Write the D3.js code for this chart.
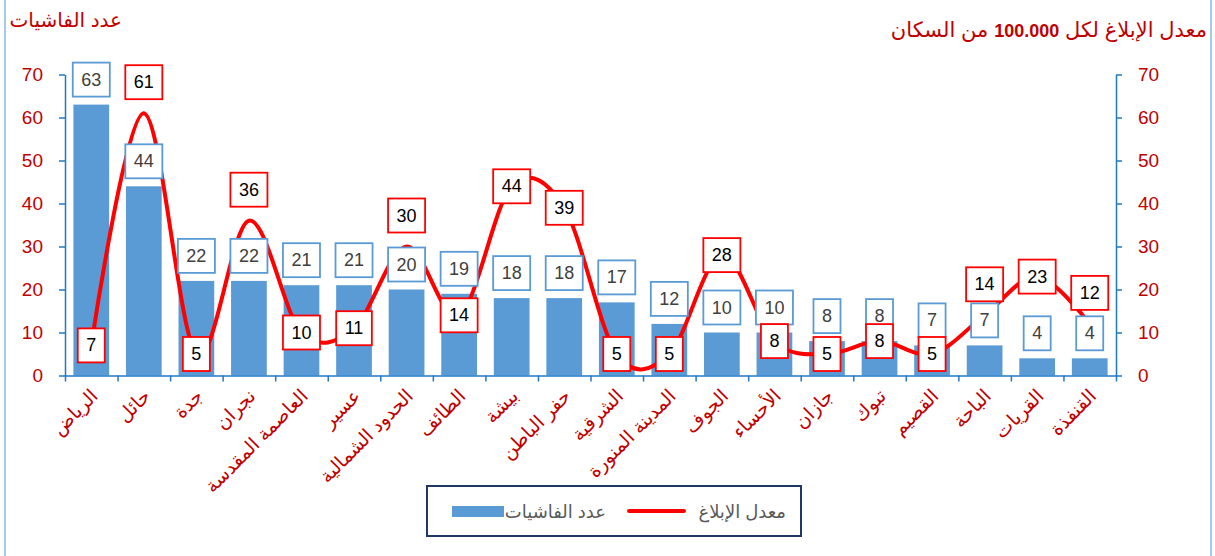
<!DOCTYPE html>
<html>
<head>
<meta charset="utf-8">
<script src="https://cdn.jsdelivr.net/npm/d3@7"></script>
<style>
  body { margin: 0; background: #fff; }
  text { font-family: "Liberation Sans", "DejaVu Sans", sans-serif; }
</style>
</head>
<body>
<svg width="1215" height="556"></svg>
<script>
// data
const regions = ["الرياض", "حائل", "جدة", "نجران", "العاصمة المقدسة", "عسير", "الحدود الشمالية",
  "الطائف", "بيشة", "حفر الباطن", "الشرقية", "المدينة المنورة", "الجوف", "الأحساء",
  "جازان", "تبوك", "القصيم", "الباحة", "القريات", "القنفذة"];
const outbreaks = [63, 44, 22, 22, 21, 21, 20, 19, 18, 18, 17, 12, 10, 10, 8, 8, 7, 7, 4, 4];
const rates = [7, 61, 5, 36, 10, 11, 30, 14, 44, 39, 5, 5, 28, 8, 5, 8, 5, 14, 23, 12];
const yTicks = [0, 10, 20, 30, 40, 50, 60, 70];

const leftTitle = "عدد الفاشيات";
const rightTitleParts = ["معدل الإبلاغ لكل ", "100.000", " من السكان"];
const legendBar = "عدد الفاشيات";
const legendLine = "معدل الإبلاغ";

// rate labels that sit above their point instead of on it
const rateAbove = new Set([1, 3, 6, 17, 19]);

const red = "#c00000";
const barBlue = "#5b9bd5";
const axisBlue = "#1f78c8";

const svg = d3.select("svg");
const plotLeft = 65, plotRight = 1116, plotTop = 74.5, plotBottom = 375.5;

const x = d3.scaleBand().domain(regions).range([plotLeft, plotRight]).paddingInner(0.32).paddingOuter(0.16);
const xEdge = d3.scaleLinear().domain([0, regions.length]).range([plotLeft, plotRight]);
const y = d3.scaleLinear().domain([0, 70]).range([plotBottom, plotTop]);

// outer frame (light blue sides)
svg.append("line").attr("x1", 5).attr("x2", 5).attr("y1", 0).attr("y2", 556)
  .attr("stroke", "#a9c9ec").attr("stroke-width", 2);
svg.append("line").attr("x1", 1211).attr("x2", 1211).attr("y1", 0).attr("y2", 556)
  .attr("stroke", "#a9c9ec").attr("stroke-width", 2);

// bars
svg.append("g").selectAll("rect")
  .data(outbreaks)
  .enter()
  .append("rect")
  .attr("x", (d, i) => x(regions[i]))
  .attr("y", d => y(d))
  .attr("width", x.bandwidth())
  .attr("height", d => y(0) - y(d))
  .attr("fill", barBlue);

// axes
function styleAxis(g) {
  g.selectAll("path, line").attr("stroke", axisBlue).attr("stroke-width", 1.5);
  g.selectAll("text").attr("fill", red).attr("font-size", 19);
}

svg.append("g")
  .attr("transform", `translate(${plotLeft},0)`)
  .call(d3.axisLeft(y).tickValues(yTicks).tickSize(6).tickSizeOuter(0).tickPadding(16))
  .call(styleAxis);

svg.append("g")
  .attr("transform", `translate(${plotRight},0)`)
  .call(d3.axisRight(y).tickValues(yTicks).tickSize(6).tickSizeOuter(0).tickPadding(16))
  .call(styleAxis);

svg.append("g")
  .attr("transform", `translate(0,${plotBottom})`)
  .call(d3.axisBottom(xEdge).ticks(regions.length).tickFormat("").tickSize(6).tickSizeOuter(0))
  .call(styleAxis);

// category labels, rotated
svg.append("g").selectAll("text")
  .data(regions)
  .enter()
  .append("text")
  .attr("transform", d => `translate(${x(d) + x.bandwidth() / 2 + 3},${plotBottom + 17}) rotate(-45)`)
  .attr("text-anchor", "end")
  .attr("dy", "0.35em")
  .attr("font-size", 19)
  .attr("fill", red)
  .text(d => d);

// rate line
const line = d3.line()
  .x((d, i) => x(regions[i]) + x.bandwidth() / 2)
  .y(d => y(d))
  .curve(d3.curveCardinal.tension(0));

svg.append("path")
  .datum(rates)
  .attr("d", line)
  .attr("fill", "none")
  .attr("stroke", "#ff0000")
  .attr("stroke-width", 4)
  .attr("stroke-linejoin", "round");

// boxed data labels
function boxLabel(cx, cy, txt, stroke, color) {
  const g = svg.append("g");
  const t = g.append("text")
    .attr("x", cx).attr("y", cy)
    .attr("text-anchor", "middle")
    .attr("dominant-baseline", "central")
    .attr("font-size", 18)
    .attr("fill", color)
    .text(txt);
  const w = t.node().getComputedTextLength();
  g.insert("rect", "text")
    .attr("x", cx - w / 2 - 8.5)
    .attr("y", cy - 17)
    .attr("width", w + 17)
    .attr("height", 34)
    .attr("fill", "#fff")
    .attr("stroke", stroke)
    .attr("stroke-width", 1.8);
}

outbreaks.forEach((v, i) => {
  boxLabel(x(regions[i]) + x.bandwidth() / 2, y(v) - 25, v, barBlue, "#404040");
});
rates.forEach((v, i) => {
  const cy = rateAbove.has(i) ? y(v) - 31 : y(v);
  boxLabel(x(regions[i]) + x.bandwidth() / 2, cy, v, "#ff0000", "#000");
});

// titles
svg.append("text")
  .attr("x", 122).attr("y", 27)
  .attr("text-anchor", "end")
  .attr("font-size", 20)
  .attr("fill", red)
  .text(leftTitle);

const rt = svg.append("text")
  .attr("x", 1207).attr("y", 37)
  .attr("direction", "rtl")
  .attr("text-anchor", "start")
  .attr("font-size", 21)
  .attr("fill", red);
rightTitleParts.forEach((p, i) => {
  rt.append("tspan")
    .attr("font-weight", i === 1 ? "bold" : "normal")
    .attr("font-size", i === 1 ? 18 : 21)
    .text(p);
});

// legend
const lg = svg.append("g");
lg.append("rect")
  .attr("x", 427).attr("y", 486).attr("width", 374).attr("height", 50)
  .attr("fill", "#fff").attr("stroke", "#1f3864").attr("stroke-width", 2);
lg.append("line")
  .attr("x1", 629).attr("x2", 684).attr("y1", 511).attr("y2", 511)
  .attr("stroke", "#ff0000").attr("stroke-width", 4).attr("stroke-linecap", "round");
lg.append("text")
  .attr("x", 786).attr("y", 518)
  .attr("text-anchor", "end").attr("font-size", 18).attr("fill", "#595959")
  .text(legendLine);
lg.append("rect")
  .attr("x", 452).attr("y", 506).attr("width", 52).attr("height", 11)
  .attr("fill", barBlue);
lg.append("text")
  .attr("x", 606).attr("y", 518)
  .attr("text-anchor", "end").attr("font-size", 18).attr("fill", "#595959")
  .text(legendBar);
</script>
</body>
</html>
